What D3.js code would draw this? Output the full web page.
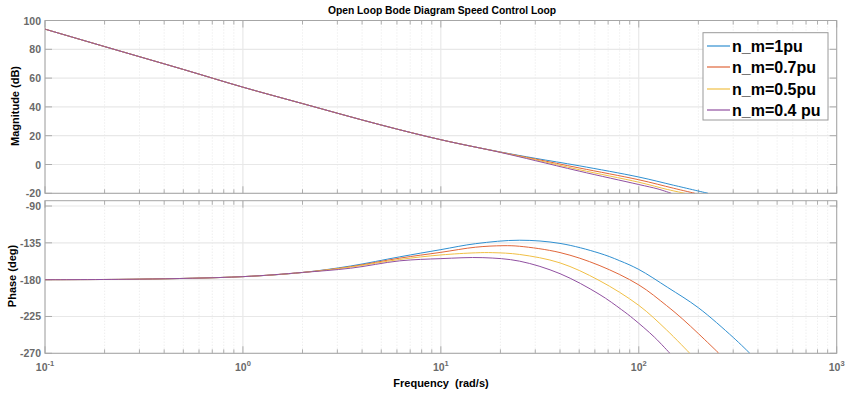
<!DOCTYPE html>
<html>
<head>
<meta charset="utf-8">
<script src="https://d3js.org/d3.v7.min.js"></script>
<style>
  body { margin: 0; background: #ffffff; }
  text { font-family: Arial, "Liberation Sans", Helvetica, sans-serif; }
</style>
</head>
<body>
<script>
// ---- data ----
const series_names = ["n_m=1pu", "n_m=0.7pu", "n_m=0.5pu", "n_m=0.4 pu"];
const series_colors = ["#2f8fd0", "#e0663a", "#f0bf45", "#9050a0"];

// magnitude (dB): shared low-frequency part, then one tail per series
const mag_freq_common = [0.1, 0.2, 0.5, 1, 2, 5, 10];
const mag_common = [94, 81.9, 66, 53.7, 42.3, 27.4, 17.2];
const mag_freq_tail = [
    [20, 30, 50, 100, 150, 224],
    [20, 30, 50, 100, 150, 192],
    [20, 30, 50, 100, 140, 171],
    [20, 30, 50, 100, 125, 146]
];
const mag_tail = [
    [8.7, 4.3, -0.9, -8.7, -14.4, -20],
    [8.6, 3.8, -2.4, -10.6, -16.5, -20],
    [8.5, 3.3, -3.6, -12.3, -17.4, -20],
    [8.4, 2.7, -4.6, -13.9, -17.0, -20]
];

// phase (deg)
const ph_freq_common = [0.1, 0.3, 1, 2];
const ph_common = [-180, -179.4, -176.3, -171.2];
const ph_freq_tail = [
    [3.5, 6.2, 10, 15, 25, 40, 63, 80, 100, 140, 200, 300, 364],
    [3.5, 6.2, 10, 15, 20.6, 25, 40, 63, 100, 138, 167, 200, 254],
    [3.5, 6.2, 10, 15, 18.3, 25, 40, 63, 100, 138, 181],
    [3.5, 6.2, 10, 16.3, 25, 40, 63, 82, 94, 120, 143.6]
];
const ph_tail = [
    [-163.3, -152.1, -143.3, -136, -131.8, -135.7, -147.5, -156.8, -167.5, -189.5, -214.3, -250.6, -270],
    [-164.1, -153.7, -146.6, -140.3, -138.5, -139.2, -146.9, -162.5, -186.4, -211.6, -228.4, -245.9, -270],
    [-164.6, -155.3, -149.8, -147.2, -147, -149.2, -159.5, -180.9, -211.4, -241.3, -270],
    [-166, -157, -154.3, -153.1, -157.4, -172.7, -197.7, -216.8, -227.9, -250.3, -270]
];

const mag_ticks = [-20, 0, 20, 40, 60, 80, 100];
const ph_ticks = [-270, -225, -180, -135, -90];
const decades = [-1, 0, 1, 2, 3];

// ---- layout ----
const W = 848, H = 394;
const left = 45, right = 836.7;
const top1 = 20.5, bot1 = 193.3;
const top2 = 200.7, bot2 = 353.3;

const svg = d3.select("body").append("svg")
    .attr("width", W).attr("height", H);

const x_scale = d3.scaleLog().domain([0.1, 1000]).range([left, right]);
const y_mag = d3.scaleLinear().domain([-20, 100]).range([bot1, top1]);
const y_ph = d3.scaleLinear().domain([-270, -83.5]).range([bot2, top2]);

let minor = [];
for (const e of [-1, 0, 1, 2]) {
    for (let k = 2; k <= 9; k++) minor.push(k * Math.pow(10, e));
}
const major = decades.map(e => Math.pow(10, e));

function draw_axes(y_scale, top, bot, ticks, clip_id) {
    let g = svg.append("g");

    // minor grid (dotted)
    g.selectAll(".mg").data(minor).enter().append("line")
        .attr("x1", d => x_scale(d)).attr("x2", d => x_scale(d))
        .attr("y1", top).attr("y2", bot)
        .attr("stroke", "#e2e2e2").attr("stroke-width", 0.8)
        .attr("stroke-dasharray", "1,2");
    // major grid
    g.selectAll(".Mg").data(major).enter().append("line")
        .attr("x1", d => x_scale(d)).attr("x2", d => x_scale(d))
        .attr("y1", top).attr("y2", bot)
        .attr("stroke", "#e4e4e4").attr("stroke-width", 1);
    g.selectAll(".hg").data(ticks).enter().append("line")
        .attr("x1", left).attr("x2", right)
        .attr("y1", d => y_scale(d)).attr("y2", d => y_scale(d))
        .attr("stroke", "#e8e8e8").attr("stroke-width", 1.2);

    // tick marks
    for (const yy of [top, bot]) {
        let dir = (yy == top) ? 1 : -1;
        g.selectAll(null).data(minor).enter().append("line")
            .attr("x1", d => x_scale(d)).attr("x2", d => x_scale(d))
            .attr("y1", yy).attr("y2", yy + dir * 4)
            .attr("stroke", "#9a9a9a").attr("stroke-width", 0.8);
        g.selectAll(null).data(major).enter().append("line")
            .attr("x1", d => x_scale(d)).attr("x2", d => x_scale(d))
            .attr("y1", yy).attr("y2", yy + dir * 7)
            .attr("stroke", "#9a9a9a").attr("stroke-width", 0.8);
    }
    for (const xx of [left, right]) {
        let dir = (xx == left) ? 1 : -1;
        g.selectAll(null).data(ticks).enter().append("line")
            .attr("x1", xx).attr("x2", xx + dir * 7)
            .attr("y1", d => y_scale(d)).attr("y2", d => y_scale(d))
            .attr("stroke", "#9a9a9a").attr("stroke-width", 0.8);
    }

    // tick labels
    g.selectAll(null).data(ticks).enter().append("text")
        .attr("x", left - 4).attr("y", d => y_scale(d) + 4)
        .attr("text-anchor", "end")
        .attr("font-size", "10.5px").attr("font-weight", "bold")
        .attr("fill", "#6a6a6a")
        .text(d => d);

    // box
    g.append("rect")
        .attr("x", left).attr("y", top)
        .attr("width", right - left).attr("height", bot - top)
        .attr("fill", "none").attr("stroke", "#a6a6a6").attr("stroke-width", 1);

    svg.append("clipPath").attr("id", clip_id)
        .append("rect")
        .attr("x", left).attr("y", top)
        .attr("width", right - left).attr("height", bot - top);
}

draw_axes(y_mag, top1, bot1, mag_ticks, "clip1");
draw_axes(y_ph, top2, bot2, ph_ticks, "clip2");

// x tick labels on lower plot
let xl = svg.append("g").selectAll(null).data(decades).enter().append("text")
    .attr("x", d => x_scale(Math.pow(10, d)))
    .attr("y", 371)
    .attr("text-anchor", "middle")
    .attr("font-size", "10.5px").attr("font-weight", "bold")
    .attr("fill", "#6a6a6a");
xl.append("tspan").text("10");
xl.append("tspan").attr("dy", -5).attr("font-size", "7.5px").text(d => d);

// curves
function make_line(y_scale) {
    return d3.line()
        .x(d => x_scale(d[0]))
        .y(d => y_scale(d[1]))
        .curve(d3.curveCatmullRom.alpha(0.5));
}

for (let i = 0; i < series_names.length; i++) {
    let mag_pts = mag_freq_common.map((f, j) => [f, mag_common[j]])
        .concat(mag_freq_tail[i].map((f, j) => [f, mag_tail[i][j]]));
    let ph_pts = ph_freq_common.map((f, j) => [f, ph_common[j]])
        .concat(ph_freq_tail[i].map((f, j) => [f, ph_tail[i][j]]));

    svg.append("path")
        .datum(mag_pts)
        .attr("clip-path", "url(#clip1)")
        .attr("fill", "none")
        .attr("stroke", series_colors[i])
        .attr("stroke-width", 1)
        .attr("d", make_line(y_mag));

    svg.append("path")
        .datum(ph_pts)
        .attr("clip-path", "url(#clip2)")
        .attr("fill", "none")
        .attr("stroke", series_colors[i])
        .attr("stroke-width", 1)
        .attr("d", make_line(y_ph));
}

// legend
let lg = svg.append("g");
lg.append("rect")
    .attr("x", 703).attr("y", 32.7)
    .attr("width", 125).attr("height", 87.3)
    .attr("fill", "#ffffff").attr("stroke", "#9a9a9a").attr("stroke-width", 1);
const legend_rows = [46, 67, 89, 110];
series_names.forEach((name, i) => {
    let yy = legend_rows[i];
    lg.append("line")
        .attr("x1", 707).attr("x2", 730)
        .attr("y1", yy).attr("y2", yy)
        .attr("stroke", series_colors[i]).attr("stroke-width", 1.2);
    lg.append("text")
        .attr("x", 732).attr("y", yy + 5.5)
        .attr("font-size", "16px").attr("font-weight", "bold")
        .attr("fill", "#000")
        .text(name);
});

// titles and labels
svg.append("text")
    .attr("x", 442).attr("y", 14)
    .attr("text-anchor", "middle")
    .attr("font-size", "10.3px").attr("font-weight", "bold")
    .text("Open Loop Bode Diagram Speed Control Loop");

svg.append("text")
    .attr("x", 441).attr("y", 387)
    .attr("text-anchor", "middle")
    .attr("font-size", "11px").attr("font-weight", "bold")
    .attr("xml:space", "preserve")
    .text("Frequency  (rad/s)");

svg.append("text")
    .attr("text-anchor", "middle")
    .attr("transform", "translate(19,106)rotate(-90)")
    .attr("font-size", "11px").attr("font-weight", "bold")
    .text("Magnitude (dB)");

svg.append("text")
    .attr("text-anchor", "middle")
    .attr("transform", "translate(16,276)rotate(-90)")
    .attr("font-size", "11px").attr("font-weight", "bold")
    .text("Phase (deg)");
</script>
</body>
</html>
